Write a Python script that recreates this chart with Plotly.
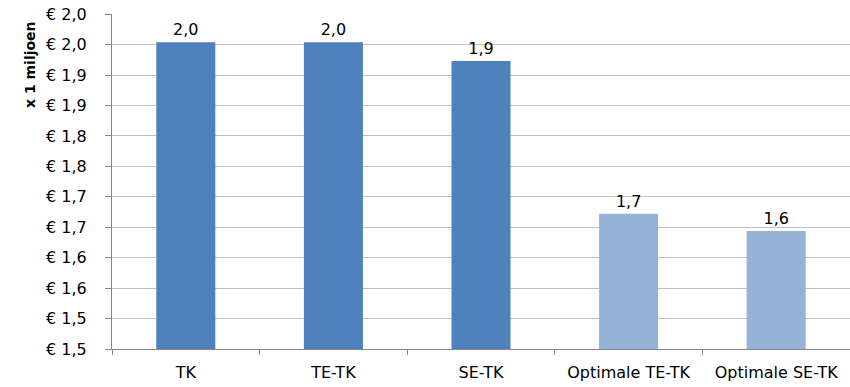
import plotly.graph_objects as go

categories = ["TK", "TE-TK", "SE-TK", "Optimale TE-TK", "Optimale SE-TK"]
values = [2.004, 2.004, 1.973, 1.722, 1.694]
value_labels = ["2,0", "2,0", "1,9", "1,7", "1,6"]
bar_colors = ["#4F81BD", "#4F81BD", "#4F81BD", "#95B3D7", "#95B3D7"]
tick_values = [1.50, 1.55, 1.60, 1.65, 1.70, 1.75, 1.80, 1.85, 1.90, 1.95, 2.00, 2.05]
tick_labels = ["€ 1,5", "€ 1,5", "€ 1,6", "€ 1,6", "€ 1,7", "€ 1,7",
               "€ 1,8", "€ 1,8", "€ 1,9", "€ 1,9", "€ 2,0", "€ 2,0"]
y_title = "x 1 miljoen"

FONT = "DejaVu Sans, sans-serif"

fig = go.Figure(go.Bar(
    x=categories, y=values,
    marker=dict(color=bar_colors, line=dict(width=0)),
    text=value_labels, textposition="outside", cliponaxis=False,
    textfont=dict(size=16, color="#000000", family=FONT),
))

fig.update_layout(
    width=850, height=387,
    margin=dict(l=112, r=0, t=14, b=38),
    paper_bgcolor="white", plot_bgcolor="white",
    bargap=0.6, showlegend=False,
    font=dict(family=FONT, size=16, color="#000000"),
    xaxis=dict(
        type="category", showgrid=False, showline=True, linecolor="#868686", linewidth=1,
        ticks="outside", tickson="boundaries", ticklen=5, tickcolor="#868686",
        ticklabelstandoff=9, tickfont=dict(size=16), automargin=False,
    ),
    yaxis=dict(
        range=[1.5, 2.0502], tickvals=tick_values, ticktext=tick_labels,
        showgrid=True, gridcolor="#C0C0C0", gridwidth=1,
        showline=True, linecolor="#868686", linewidth=1,
        ticks="outside", ticklen=6, tickcolor="#868686", ticklabelstandoff=15,
        tickfont=dict(size=16), zeroline=False, automargin=False,
    ),
    annotations=[dict(
        text="<b>" + y_title + "</b>", textangle=-90,
        xref="paper", yref="paper", x=-0.111, y=0.848,
        xanchor="center", yanchor="middle", showarrow=False,
        font=dict(size=14, family=FONT, color="#000000"),
    )],
)

# remove the browser's default 8px body margin so the figure fills the window exactly
fig.write_html("out.html", config={"displayModeBar": False},
               post_script="document.body.style.margin='0';")
